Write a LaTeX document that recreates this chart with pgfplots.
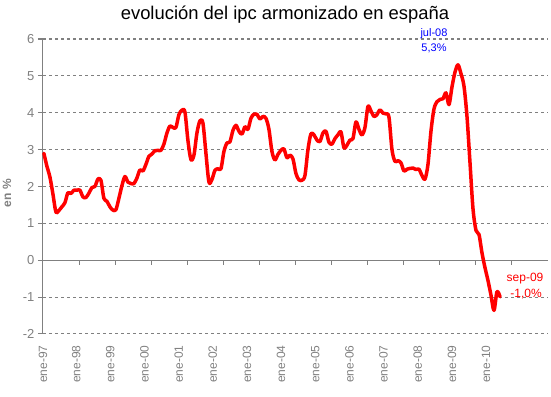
\documentclass[border=0pt]{standalone}
\usepackage{pgfplots}
\pgfplotsset{compat=1.18}
\usepackage{fontspec}
\setmainfont{Liberation Sans}
\definecolor{axgray}{RGB}{128,128,128}
\begin{document}
\begin{tikzpicture}[x=1pt,y=1pt]
\path[use as bounding box] (0,0) rectangle (551,396);
\begin{axis}[
  at={(43pt,62pt)}, anchor=south west,
  scale only axis, width=505pt, height=295pt,
  xmin=-0.3, xmax=168, ymin=-2, ymax=6,
  axis x line*=bottom, axis y line*=left,
  x axis line style={draw=none},
  y axis line style={draw=axgray, line width=1pt},
  ytick={-2,-1,0,1,2,3,4,5,6},
  ymajorgrids,
  grid style={axgray, dash pattern=on 3pt off 3pt, line width=1pt},
  xtick={-0.3,10.75,22.14,33.52,44.90,56.29,67.67,79.05,90.44,101.82,113.20,124.59,135.97,147.35},
  xticklabels={ene-97,ene-98,ene-99,ene-00,ene-01,ene-02,ene-03,ene-04,ene-05,ene-06,ene-07,ene-08,ene-09,ene-10},
  x tick label style={yshift=-3pt, rotate=90, anchor=east, font=\fontsize{12}{14}\selectfont, color=axgray},
  y tick label style={font=\fontsize{13}{15}\selectfont, color=axgray},
  major x tick style={draw=none},
  major y tick style={axgray, line width=1pt},
  tick align=outside, major tick length=5pt,
  /pgf/number format/assume math mode=true,
  clip=false,
]
\draw[axgray, line width=1pt] (axis cs:-0.3,0) -- (axis cs:168,0);
\pgfplotsinvokeforeach{0,...,13}{
  \draw[axgray, line width=1pt] (axis cs:{-0.3+12*#1},0) -- ([yshift=-5pt]axis cs:{-0.3+12*#1},0);
}
\addplot[red, line width=3.5pt, smooth, line join=round, line cap=round] coordinates {
(0,2.9) (1,2.55) (2,2.26) (3,1.8) (4,1.31) (5,1.35) (6,1.45) (7,1.56) (8,1.83) (9,1.81) (10,1.9) (11,1.9)
(12,1.9) (13,1.72) (14,1.7) (15,1.82) (16,1.97) (17,2.0) (18,2.2) (19,2.17) (20,1.68) (21,1.6) (22,1.45) (23,1.36)
(24,1.37) (25,1.68) (26,2.02) (27,2.27) (28,2.12) (29,2.08) (30,2.08) (31,2.23) (32,2.45) (33,2.42) (34,2.6) (35,2.82)
(36,2.88) (37,2.97) (38,2.98) (39,2.98) (40,3.15) (41,3.45) (42,3.64) (43,3.6) (44,3.6) (45,3.95) (46,4.07) (47,4.02)
(48,3.25) (49,2.73) (50,2.85) (51,3.45) (52,3.78) (53,3.72) (54,2.9) (55,2.12) (56,2.19) (57,2.44) (58,2.48) (59,2.48)
(60,2.95) (61,3.18) (62,3.21) (63,3.52) (64,3.66) (65,3.5) (66,3.42) (67,3.62) (68,3.55) (69,3.85) (70,3.96) (71,3.96)
(72,3.83) (73,3.9) (74,3.85) (75,3.55) (76,2.95) (77,2.72) (78,2.87) (79,2.98) (80,3.02) (81,2.78) (82,2.85) (83,2.75)
(84,2.35) (85,2.18) (86,2.17) (87,2.3) (88,3.0) (89,3.43) (90,3.4) (91,3.26) (92,3.22) (93,3.45) (94,3.5) (95,3.2)
(96,3.15) (97,3.3) (98,3.4) (99,3.48) (100,3.05) (101,3.12) (102,3.26) (103,3.3) (104,3.75) (105,3.55) (106,3.4) (107,3.6)
(108,4.17) (109,4.05) (110,3.9) (111,3.95) (112,4.08) (113,3.99) (114,3.97) (115,3.88) (116,3.0) (117,2.68) (118,2.7) (119,2.64)
(120,2.42) (121,2.47) (122,2.49) (123,2.5) (124,2.46) (125,2.47) (126,2.3) (127,2.2) (128,2.6) (129,3.5) (130,4.1) (131,4.3)
(132,4.36) (133,4.38) (134,4.54) (135,4.22) (136,4.7) (137,5.1) (138,5.3) (139,5.06) (140,4.72) (141,3.9) (142,2.65) (143,1.4)
(144,0.81) (145,0.7) (146,0.2) (147,-0.2) (148,-0.55) (149,-0.95) (150,-1.36) (151,-0.85) (152,-0.99)
};
\end{axis}
\node[anchor=base, font=\fontsize{18.4}{20}\selectfont] at (285,376) {evolución del ipc armonizado en españa};
\node[rotate=90, font=\bfseries\fontsize{12}{14}\selectfont, color=axgray] at (7,203) {en \%};
\node[anchor=base, blue, font=\fontsize{11}{13}\selectfont] at (434,359) {jul-08};
\node[anchor=base, blue, font=\fontsize{11}{13}\selectfont] at (434,344) {5,3\%};
\node[anchor=base, red, font=\fontsize{12}{14}\selectfont] at (525,114) {sep-09};
\node[anchor=base, red, font=\fontsize{12}{14}\selectfont] at (526,98) {-1,0\%};
\end{tikzpicture}
\end{document}
